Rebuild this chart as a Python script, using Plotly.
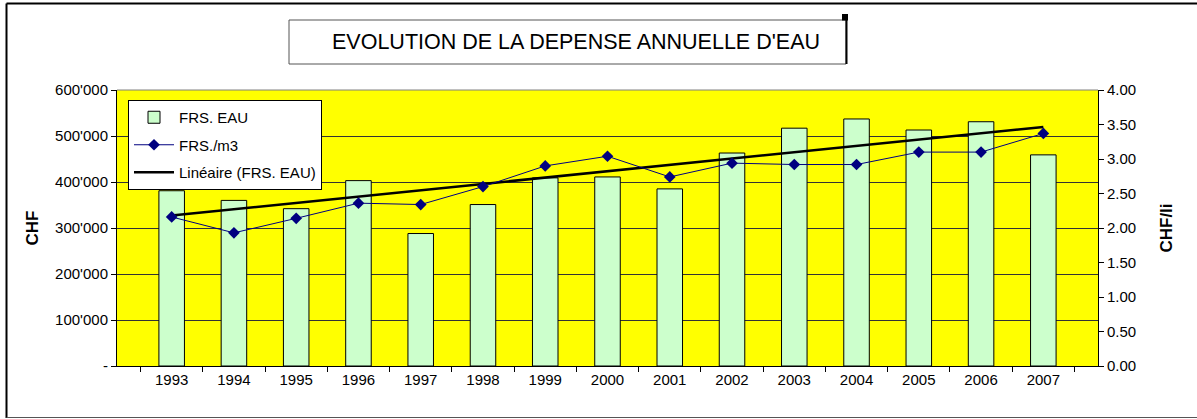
import numpy as np
import plotly.graph_objects as go

years = ["1993", "1994", "1995", "1996", "1997", "1998", "1999", "2000",
         "2001", "2002", "2003", "2004", "2005", "2006", "2007"]
frs_eau = [381000, 360000, 342000, 403000, 288000, 351000, 409000, 411000,
           385000, 463000, 517000, 537000, 513000, 531000, 459000]
frs_m3 = [2.16, 1.93, 2.14, 2.36, 2.34, 2.60, 2.90, 3.04,
          2.74, 2.94, 2.92, 2.92, 3.10, 3.10, 3.37]
left_ticks = [0, 100000, 200000, 300000, 400000, 500000, 600000]
left_ticktext = ["-", "100'000", "200'000", "300'000", "400'000", "500'000", "600'000"]
title_text = "EVOLUTION DE LA DEPENSE ANNUELLE D'EAU"

# linear trend of FRS. EAU (Excel "Linéaire" trendline)
idx = np.arange(len(years))
slope, intercept = np.polyfit(idx, frs_eau, 1)
trend = slope * idx + intercept

W, H = 1197, 419
ML, MR, MT, MB = 117, 99, 90, 53
PW, PH = W - ML - MR, H - MT - MB


def px(x):
    return (x - ML) / PW


def py(y):
    return (H - MB - y) / PH


FONT = "Arial, Liberation Sans, sans-serif"

fig = go.Figure()
fig.add_trace(go.Bar(
    x=years, y=frs_eau, name="FRS. EAU", legendgroup="a",
    marker=dict(color="#CCFFCC", line=dict(color="black", width=1)),
))
fig.add_trace(go.Scatter(
    x=years, y=frs_m3, name="FRS./m3", yaxis="y2", legendgroup="b",
    mode="lines+markers",
    line=dict(color="#000080", width=1),
    marker=dict(symbol="diamond", size=9, color="#000080"),
))
fig.add_trace(go.Scatter(
    x=years, y=trend, name="Linéaire (FRS. EAU)", legendgroup="c",
    mode="lines", line=dict(color="black", width=2.5),
))

shapes = [
    # outer chart border
    dict(type="line", xref="paper", yref="paper", x0=px(6.5), x1=px(6.5), y0=py(3.5), y1=py(418),
         line=dict(color="black", width=2)),
    dict(type="line", xref="paper", yref="paper", x0=px(6.5), x1=px(1200), y0=py(3.5), y1=py(3.5),
         line=dict(color="black", width=2)),
    dict(type="line", xref="paper", yref="paper", x0=px(6.5), x1=px(1200), y0=py(417.5), y1=py(417.5),
         line=dict(color="#555555", width=1)),
    # plot area top border
    dict(type="line", xref="paper", yref="paper", x0=0, x1=1, y0=1, y1=1,
         line=dict(color="#808080", width=1)),
    # title box
    dict(type="rect", xref="paper", yref="paper", x0=px(289), x1=px(846), y0=py(64), y1=py(20),
         fillcolor="white", line=dict(color="#555555", width=1)),
    dict(type="line", xref="paper", yref="paper", x0=px(846.5), x1=px(846.5), y0=py(64), y1=py(14),
         line=dict(color="black", width=2)),
    dict(type="rect", xref="paper", yref="paper", x0=px(842), x1=px(848), y0=py(20.5), y1=py(14),
         fillcolor="black", line=dict(width=0)),
]

fig.update_layout(
    width=W, height=H, autosize=False,
    margin=dict(l=ML, r=MR, t=MT, b=MB, pad=0),
    paper_bgcolor="white", plot_bgcolor="#FFFF00",
    font=dict(family=FONT, size=15, color="black"),
    bargap=0.59,
    showlegend=True,
    legend=dict(
        x=px(128), y=py(100), xanchor="left", yanchor="top",
        bgcolor="white", bordercolor="black", borderwidth=1,
        font=dict(family=FONT, size=15, color="black"),
        traceorder="grouped", tracegroupgap=5, itemwidth=40,
    ),
    xaxis=dict(
        type="category", tickson="boundaries", ticks="outside", ticklen=5,
        tickcolor="black", showline=True, linecolor="black", linewidth=1,
        showgrid=False, tickfont=dict(size=15),
    ),
    yaxis=dict(
        range=[0, 600000], tickvals=left_ticks, ticktext=left_ticktext,
        ticks="outside", ticklen=5, tickcolor="black",
        showline=True, linecolor="black", linewidth=1,
        showgrid=True, gridcolor="#333333", gridwidth=1, zeroline=False,
        title=dict(text="<b>CHF</b>", font=dict(size=17), standoff=12),
        tickfont=dict(size=15),
    ),
    yaxis2=dict(
        range=[0, 4], tickvals=[0, 0.5, 1, 1.5, 2, 2.5, 3, 3.5, 4], tickformat=".2f",
        overlaying="y", side="right",
        ticks="outside", ticklen=5, tickcolor="black",
        showline=True, linecolor="black", linewidth=1,
        showgrid=False, zeroline=False,
        title=dict(text="<b>CHF/li</b>", font=dict(size=17), standoff=24),
        tickfont=dict(size=15),
    ),
    shapes=shapes,
    annotations=[dict(
        text=title_text, xref="paper", yref="paper",
        x=px(576), y=py(42), xanchor="center", yanchor="middle",
        showarrow=False, font=dict(family=FONT, size=21.5, color="black"),
    )],
)

fig.write_html(
    "out.html",
    config={"displayModeBar": False},
    post_script="document.body.style.margin='0';document.body.style.overflow='hidden';",
)
